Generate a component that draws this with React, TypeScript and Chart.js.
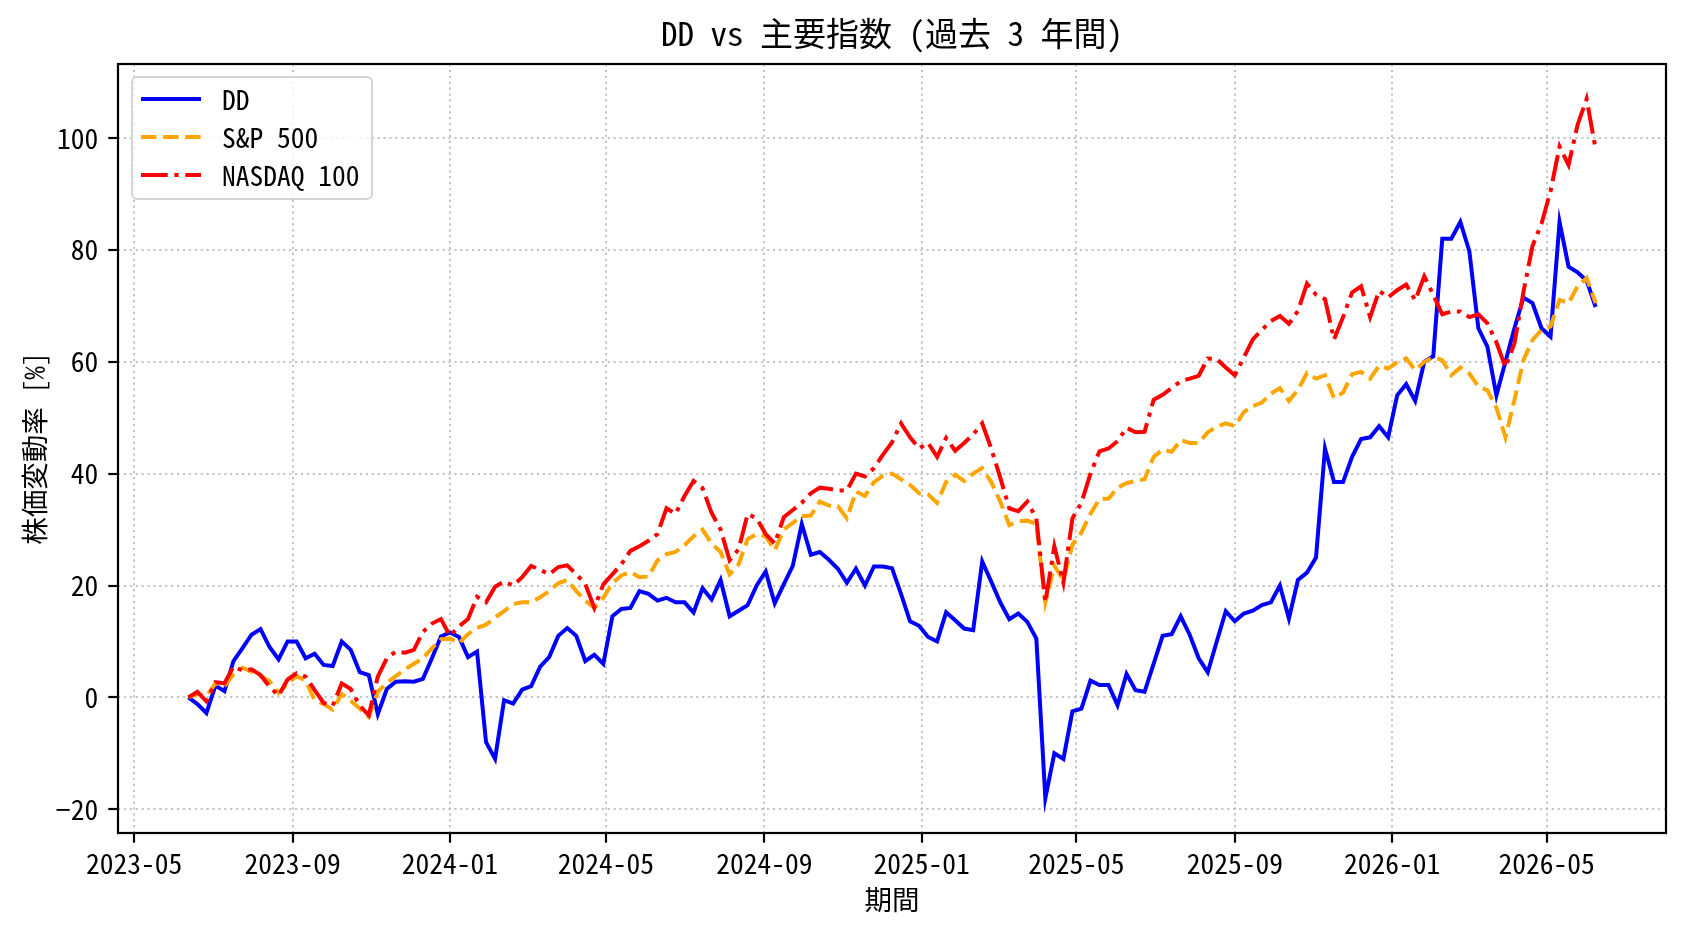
import React, { useEffect, useRef } from "react";
import { Chart, registerables } from "chart.js";

Chart.register(...registerables);

// ---- data (weekly samples) ----
const startDate = "2023-06-12";
const stepDays = 7;
const seriesLabels = ["DD", "S&P 500", "NASDAQ 100"];

const ddValues = [
  0, -1.2, -2.8, 2.1, 1.1, 6.5, 8.8, 11.2, 12.2, 9,
  6.8, 10, 10, 7, 7.8, 5.8, 5.6, 10, 8.5, 4.5,
  4, -3, 1.5, 2.8, 2.9, 2.8, 3.3, 7, 10.9, 11.6,
  10.8, 7.2, 8.2, -8, -11, -0.5, -1.1, 1.4, 2, 5.5,
  7.2, 11, 12.4, 11, 6.5, 7.6, 6, 14.5, 15.8, 16,
  19, 18.5, 17.3, 17.8, 17, 17, 15.2, 19.5, 17.5, 21,
  14.5, 15.5, 16.5, 20, 22.5, 16.8, 20.2, 23.5, 31, 25.5,
  26, 24.6, 23, 20.5, 23, 20, 23.4, 23.4, 23.1, 18.5,
  13.6, 12.8, 10.8, 10, 15.2, 13.8, 12.3, 12, 24.3, 20.7,
  17, 14, 15, 13.5, 10.5, -18, -10, -11, -2.5, -2,
  3, 2.2, 2.2, -1.4, 4.2, 1.3, 1, 6, 11, 11.3,
  14.5, 11.2, 7, 4.5, 10, 15.4, 13.6, 15, 15.5, 16.5,
  17, 20, 14.1, 21, 22.3, 25, 44.5, 38.5, 38.5, 43,
  46.2, 46.5, 48.5, 46.5, 54, 56, 53, 60, 61, 82,
  82, 85, 79.8, 66, 62.7, 54, 60, 66, 71.5, 70.5,
  66, 64.5, 85, 77, 76, 74.5, 69.8,
];

const sp500Values = [
  0, 0.6, 0.2, 2.5, 2, 4.1, 5.3, 4.6, 3.8, 2.9,
  0.8, 2.5, 3.8, 3, -0.5, -1.2, -2.2, 0.6, -0.6, -2,
  -3.5, 1, 2.6, 3.8, 5, 6, 7, 8.8, 10.4, 10.5,
  9.7, 11.3, 12.4, 13, 14.3, 15.4, 16.7, 17, 17, 17.9,
  19, 20.4, 21, 19, 17.3, 16, 17.8, 20.4, 21.8, 22.4,
  21.5, 21.6, 24.5, 25.6, 26, 27.2, 28.8, 30, 27.5, 26,
  22, 23.8, 28.3, 29.2, 28.8, 26.3, 30, 31.2, 32.4, 32.5,
  35, 34.3, 34.2, 32, 36.8, 36, 38.5, 39.6, 40, 39,
  38, 36.5, 36.3, 34.8, 38.5, 39.8, 38.7, 40, 41, 38.5,
  35, 30.8, 31.5, 31.6, 31, 17, 23.5, 21, 27.3, 29.5,
  32.8, 35.5, 35.5, 37.5, 38.3, 38.7, 39, 43, 44.3, 43.9,
  46, 45.5, 45.5, 47.4, 48.4, 49, 48.5, 51, 52.1, 52.7,
  54.3, 55.3, 53, 55, 58, 57, 57.6, 53.5, 54.5, 57.8,
  58.2, 57, 59.3, 58.8, 59.9, 60.6, 58.5, 60, 60.8, 60.3,
  57.6, 59, 57.9, 55.6, 54.9, 51.8, 46.5, 53.2, 60.3, 63.9,
  65.7, 66.3, 71.1, 70.5, 73.5, 75, 70.5,
];

const nasdaqValues = [
  0, 1, -0.7, 2.7, 2.5, 5.5, 4.8, 5, 4, 1.9,
  0.3, 3.2, 4.3, 3.7, 1.3, -1, -1.5, 2.5, 1.5, -1.5,
  -3.2, 3.7, 7, 8.2, 8, 8.5, 11.7, 13.2, 14, 11,
  12.7, 14, 18, 17, 19.8, 20.7, 20, 21.5, 23.5, 22.8,
  22, 23.3, 23.6, 22, 20.3, 16, 20.2, 22, 23.8, 26.2,
  27, 28, 29.2, 33.8, 32.8, 36, 38.7, 37.4, 33, 30,
  24.5, 26.5, 32.8, 32, 29.2, 27.5, 32.2, 33.5, 34.8, 36.5,
  37.5, 37.3, 37, 37, 40, 39.5, 41, 43.4, 45.6, 49,
  46.5, 44.5, 45.5, 43, 46.4, 44.1, 45.5, 47, 49, 44.5,
  39.3, 33.8, 33.3, 35, 32, 17, 27, 20.5, 32, 34.8,
  40, 44, 44.5, 45.8, 48.2, 47.4, 47.5, 53.2, 54.1, 55.3,
  56.5, 57, 57.5, 60.6, 60.5, 59, 57.6, 60.8, 64, 65.7,
  67.3, 68.2, 66.8, 69.1, 74, 72, 71.2, 64, 68, 72.4,
  73.5, 68, 72.7, 71.5, 72.8, 73.8, 71, 75.3, 72, 68.5,
  69, 69, 68, 68.5, 66.9, 63.5, 59, 63.3, 72.5, 80.7,
  84.7, 90.5, 98.5, 95.2, 102.4, 107, 98,
];

const xTickLabels = [
  "2023-05", "2023-09", "2024-01", "2024-05", "2024-09",
  "2025-01", "2025-05", "2025-09", "2026-01", "2026-05",
];
const yTickValues = [-20, 0, 20, 40, 60, 80, 100];

const titleText = "DD vs 主要指数 (過去 3 年間)";
const xAxisTitle = "期間";
const yAxisTitle = "株価変動率 [%]";

// ---- helpers ----
const DAY_MS = 86400000;
const toDay = (s: string) => {
  const [y, m, d] = s.split("-").map(Number);
  return Date.UTC(y, m - 1, d || 1) / DAY_MS;
};
const dayNumbers = ddValues.map((_, i) => toDay(startDate) + i * stepDays);
const xTickDays = xTickLabels.map(toDay);

const FONT = '"Noto Sans Mono CJK JP", "Noto Sans CJK JP", sans-serif';
const FS = 27.5;

const styles = [
  { color: "#0000ff", dash: [] as number[] },
  { color: "#ffa500", dash: [15.4, 6.7] },
  { color: "#ff0000", dash: [26.7, 6.7, 4.2, 6.7] },
];
const LINE_W = 4;

export default function App() {
  const ref = useRef<HTMLCanvasElement | null>(null);

  useEffect(() => {
    document.body.style.margin = "0";
    const canvas = ref.current!;
    const all = [...ddValues, ...sp500Values, ...nasdaqValues];
    const yMinD = Math.min(...all);
    const yMaxD = Math.max(...all);
    const yPad = (yMaxD - yMinD) * 0.05;
    const xMinD = dayNumbers[0];
    const xMaxD = dayNumbers[dayNumbers.length - 1];
    const xPad = (xMaxD - xMinD) * 0.05;

    const valueSets = [ddValues, sp500Values, nasdaqValues];

    const framePlugin = {
      id: "frame",
      afterDatasetsDraw(chart: any) {
        const { ctx, chartArea: a } = chart;
        ctx.save();
        ctx.strokeStyle = "#000";
        ctx.lineWidth = 2.2;
        ctx.setLineDash([]);
        ctx.strokeRect(a.left, a.top, a.right - a.left, a.bottom - a.top);
        ctx.restore();
      },
    };

    const textPlugin = {
      id: "texts",
      afterDraw(chart: any) {
        const { ctx, chartArea: a } = chart;
        const cx = (a.left + a.right) / 2;
        const cy = (a.top + a.bottom) / 2;
        ctx.save();
        ctx.fillStyle = "#000";
        ctx.textAlign = "center";
        ctx.textBaseline = "middle";
        ctx.font = `33px ${FONT}`;
        ctx.fillText(titleText, cx, 33);
        ctx.font = `${FS}px ${FONT}`;
        ctx.fillText(xAxisTitle, cx, 900);
        ctx.translate(35, cy);
        ctx.rotate(-Math.PI / 2);
        ctx.fillText(yAxisTitle, 0, 0);
        ctx.restore();

        // legend (upper left)
        const x0 = a.left + 14;
        const y0 = a.top + 13;
        const w = 240;
        const h = 122;
        ctx.save();
        ctx.beginPath();
        if ((ctx as any).roundRect) (ctx as any).roundRect(x0, y0, w, h, 5);
        else ctx.rect(x0, y0, w, h);
        ctx.fillStyle = "rgba(255,255,255,0.8)";
        ctx.fill();
        ctx.strokeStyle = "#d5d5d5";
        ctx.lineWidth = 2;
        ctx.stroke();
        ctx.font = `${FS}px ${FONT}`;
        ctx.textAlign = "left";
        ctx.textBaseline = "middle";
        seriesLabels.forEach((lab, k) => {
          const yy = y0 + 22 + k * 38;
          ctx.beginPath();
          ctx.setLineDash(styles[k].dash);
          ctx.lineDashOffset = 0;
          ctx.strokeStyle = styles[k].color;
          ctx.lineWidth = LINE_W;
          ctx.moveTo(x0 + 9, yy);
          ctx.lineTo(x0 + 69, yy);
          ctx.stroke();
          ctx.setLineDash([]);
          ctx.fillStyle = "#000";
          ctx.fillText(lab, x0 + 90, yy + 1);
        });
        ctx.restore();
      },
    };

    const gridCommon = {
      color: "rgba(176,176,176,0.75)",
      lineWidth: 2,
      tickColor: "#000",
      tickLength: 9.7,
      tickWidth: 2.2,
      drawTicks: true,
    };

    const chart = new Chart(canvas, {
      type: "line",
      data: {
        datasets: valueSets.map((vals, k) => ({
          label: seriesLabels[k],
          data: dayNumbers.map((x, i) => ({ x, y: vals[i] })),
          borderColor: styles[k].color,
          backgroundColor: styles[k].color,
          borderWidth: LINE_W,
          borderDash: styles[k].dash,
          pointRadius: 0,
          tension: 0,
          fill: false,
          order: 3 - k,
        })),
      },
      options: {
        responsive: false,
        animation: false,
        layout: { padding: { top: 64, right: 22, left: 0, bottom: 0 } },
        plugins: {
          legend: { display: false },
          title: { display: false },
          tooltip: { enabled: false },
        },
        scales: {
          x: {
            type: "linear",
            min: xMinD - xPad,
            max: xMaxD + xPad,
            afterFit: (s: any) => {
              s.height = 99;
            },
            afterBuildTicks: (s: any) => {
              s.ticks = xTickDays.map((v) => ({ value: v }));
            },
            ticks: {
              autoSkip: false,
              maxRotation: 0,
              padding: 4,
              color: "#000",
              font: { family: FONT, size: FS },
              callback: (_v: any, i: number) => xTickLabels[i],
            },
            grid: gridCommon,
            border: { display: false, dash: [2.2, 3.7] },
          },
          y: {
            type: "linear",
            min: yMinD - yPad,
            max: yMaxD + yPad,
            afterFit: (s: any) => {
              s.width = 118;
            },
            afterBuildTicks: (s: any) => {
              s.ticks = yTickValues.map((v) => ({ value: v }));
            },
            ticks: {
              padding: 10,
              color: "#000",
              font: { family: FONT, size: FS },
              callback: (v: any) => (v < 0 ? "\u2212" + Math.abs(v) : String(v)),
            },
            grid: gridCommon,
            border: { display: false, dash: [2.2, 3.7] },
          },
        },
      },
      plugins: [framePlugin, textPlugin],
    } as any);

    return () => chart.destroy();
  }, []);

  return (
    <div style={{ width: 1688, height: 932, background: "#fff" }}>
      <canvas ref={ref} width={1688} height={932} style={{ display: "block" }} />
    </div>
  );
}
